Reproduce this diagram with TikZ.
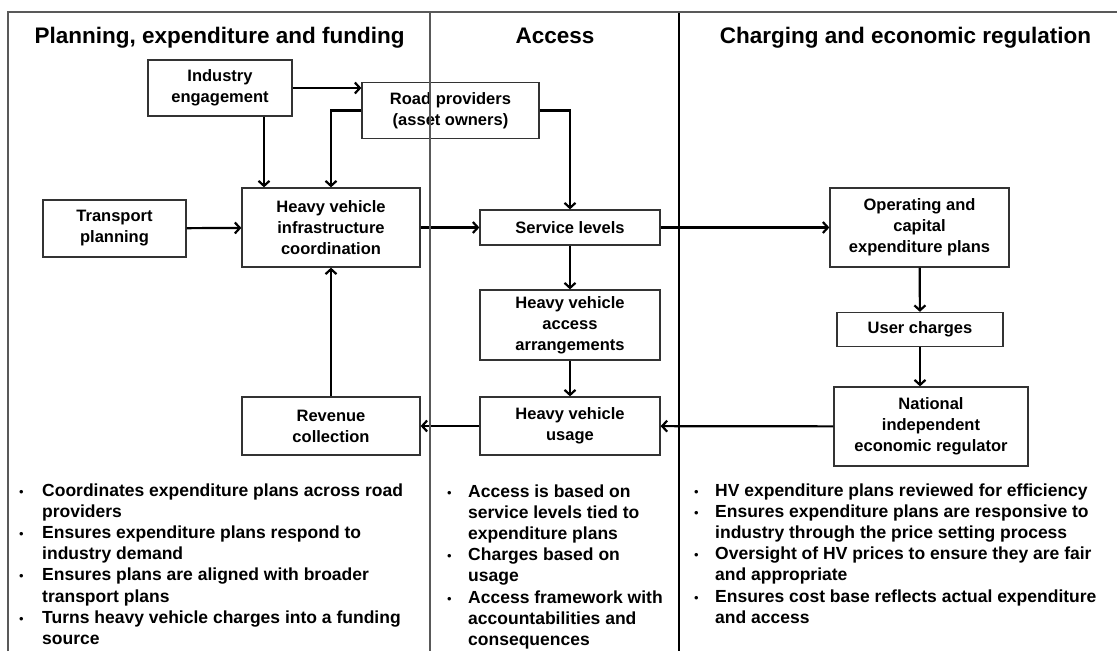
\documentclass[tikz,border=0pt]{standalone}
\usepackage{fontspec}
\setmainfont{Liberation Sans}
\usetikzlibrary{arrows.meta}
\newcommand\bulletmark{{\fontsize{13}{13}\selectfont\mdseries\textbullet}}
\begin{document}
\begin{tikzpicture}[x=1pt,y=-1pt,
  box/.style={draw=black!80, line width=1.3pt, align=center, font=\fontsize{16.5}{21}\selectfont\bfseries, inner sep=0pt},
  hdr/.style={font=\fontsize{22.5}{26}\selectfont\bfseries, anchor=base, inner sep=0pt},
  conn/.style={line width=2.2pt, -{Straight Barb[length=5pt,width=11pt]}},
  bul/.style={anchor=north west, inner sep=0pt, align=left, font=\fontsize{17.5}{21.2}\selectfont\bfseries},
  frameline/.style={line width=2pt, black!65},
]
\useasboundingbox (0,0) rectangle (1117,651);

% headers
\node[hdr] (h1) at (219.5,43) {Planning, expenditure and funding};
\node[hdr] (h2) at (555,43) {Access};
\node[hdr] (h3) at (905.5,43) {Charging and economic regulation};

% boxes
\node[box, minimum width=144pt, minimum height=56pt] (ind) at (220,88) {Industry\\engagement};
\node[box, minimum width=177pt, minimum height=56pt] (road) at (450.5,110.5) {Road providers\\(asset owners)};
\node[box, minimum width=143pt, minimum height=57pt] (tp) at (114.5,228.5) {Transport\\planning};
\node[box, minimum width=178pt, minimum height=79pt] (hvi) at (331,227.5) {Heavy vehicle\\infrastructure\\coordination};
\node[box, minimum width=180pt, minimum height=35pt] (svc) at (570,227.5) {Service levels};
\node[box, minimum width=180pt, minimum height=70pt] (hva) at (570,325) {Heavy vehicle\\access\\arrangements};
\node[box, minimum width=180pt, minimum height=58pt] (hvu) at (570,426) {Heavy vehicle\\usage};
\node[box, minimum width=178pt, minimum height=58pt] (rev) at (331,426) {Revenue\\collection};
\node[box, minimum width=179pt, minimum height=79pt] (op) at (919.5,227.5) {Operating and\\capital\\expenditure plans};
\node[box, minimum width=166pt, minimum height=34pt] (uc) at (920,329.5) {User charges};
\node[box, minimum width=194pt, minimum height=79pt] (nier) at (931,426.5) {National\\independent\\economic regulator};

% connectors
\draw[conn] (ind.east) -- (ind.east -| road.west);
\draw[conn] ([xshift=44pt]ind.south) -- ([xshift=44pt]ind.south |- hvi.north);
\draw[conn] (road.west) -| (hvi.north);
\draw[conn] (road.east) -| (svc.north);
\draw[conn] (tp) -- (hvi);
\draw[conn] (hvi) -- (svc);
\draw[conn] (svc) -- (op);
\draw[conn] (svc) -- (hva);
\draw[conn] (hva) -- (hvu);
\draw[conn] (op) -- (uc);
\draw[conn] (uc.south) -- (uc.south |- nier.north);
\draw[conn] (nier) -- (hvu);
\draw[conn] (hvu) -- (rev);
\draw[conn] (rev) -- (hvi);

% bullet texts
\node[bul] (bl) at (19,481) {\begin{tabular}{@{}p{23pt}@{}l@{}}
\bulletmark & Coordinates expenditure plans across road\\
 & providers\\
\bulletmark & Ensures expenditure plans respond to\\
 & industry demand\\
\bulletmark & Ensures plans are aligned with broader\\
 & transport plans\\
\bulletmark & Turns heavy vehicle charges into a funding\\
 & source
\end{tabular}};
\node[bul] (bm) at (447,482) {\begin{tabular}{@{}p{21pt}@{}l@{}}
\bulletmark & Access is based on\\
 & service levels tied to\\
 & expenditure plans\\
\bulletmark & Charges based on\\
 & usage\\
\bulletmark & Access framework with\\
 & accountabilities and\\
 & consequences
\end{tabular}};
\node[bul] (br) at (694,481) {\begin{tabular}{@{}p{21pt}@{}l@{}}
\bulletmark & HV expenditure plans reviewed for efficiency\\
\bulletmark & Ensures expenditure plans are responsive to\\
 & industry through the price setting process\\
\bulletmark & Oversight of HV prices to ensure they are fair\\
 & and appropriate\\
\bulletmark & Ensures cost base reflects actual expenditure\\
 & and access
\end{tabular}};

% frame and dividers
\draw[line width=1.5pt, black!65] (430,12) -- (430,651);
\draw[line width=2.5pt, black] (679,12) -- (679,651);
\draw[frameline] (8,651) -- (8,12) -- (1117,12);
\end{tikzpicture}
\end{document}
